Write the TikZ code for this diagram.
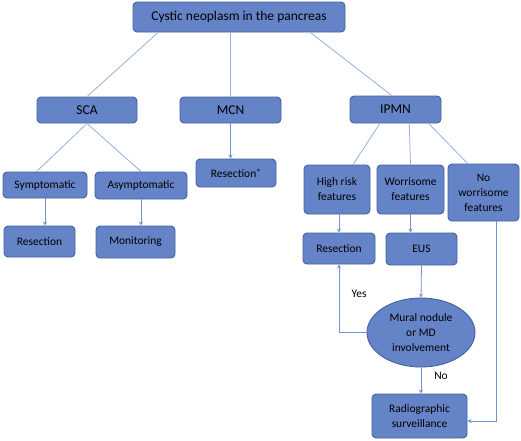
\documentclass[tikz,border=0pt]{standalone}
\usepackage{fontspec}
\setmainfont{Carlito}
\usepackage{tikz}
\usepackage{xcolor}
\usetikzlibrary{shapes,arrows,positioning,calc}
\definecolor{boxcolor}{RGB}{101,132,200}
\definecolor{edgecolor}{RGB}{68,98,160}
\definecolor{linkcolor}{RGB}{150,176,222}
\definecolor{arrowcolor}{RGB}{112,146,210}

\begin{document}
\begin{tikzpicture}[
    x=1pt, y=-1pt,
    box/.style={rectangle, draw=edgecolor, line width=0.9pt, fill=boxcolor, rounded corners=4pt, inner sep=1pt, align=center, font=\fontsize{11.5}{15}\selectfont},
    headbox/.style={box, font=\fontsize{13.5}{15}\selectfont},
    oval/.style={ellipse, draw=edgecolor, line width=0.9pt, fill=boxcolor, inner sep=0pt, align=center, font=\fontsize{11.5}{15}\selectfont},
    link/.style={draw=linkcolor, line width=0.8pt},
    arrow/.style={->, >=stealth, draw=arrowcolor, line width=0.8pt},
    tag/.style={font=\fontsize{11.5}{15}\selectfont}
]
\useasboundingbox (0,0) rectangle (521,440);

% Root
\node[headbox, minimum width=212, minimum height=30] (root) at (239,17) {Cystic neoplasm in the pancreas};

% ============ Level 1 ============
\node[headbox, minimum width=100, minimum height=26] (sca) at (87,110) {SCA};
\node[headbox, minimum width=101, minimum height=26] (mcn) at (230.5,110) {MCN};
\node[headbox, minimum width=91, minimum height=27] (ipmn) at (395.5,109.5) {IPMN};

\draw[link] ($(root.south west)!0.12!(root.south east)$) -- (sca.north);
\draw[link] (root.south -| mcn.north) -- (mcn.north);
\draw[link] ($(root.south west)!0.835!(root.south east)$) -- ($(ipmn.north west)!0.46!(ipmn.north east)$);

% ============ SCA ============
\node[box, minimum width=84, minimum height=26] (symp) at (45,185) {Symptomatic};
\node[box, minimum width=92, minimum height=27] (asymp) at (141,185.5) {Asymptomatic};
\node[box, minimum width=71, minimum height=31] (res1) at (39.5,241.5) {Resection};
\node[box, minimum width=79, minimum height=32] (mon) at (135.5,242) {Monitoring};

\draw[link] (sca.south) -- ($(symp.north west)!0.4!(symp.north east)$);
\draw[link] (sca.south) -- (asymp.north);
\draw[arrow] (symp.south) -- (symp.south |- res1.north);
\draw[arrow] (asymp.south) -- (asymp.south |- mon.north);

% ============ MCN ============
\node[box, minimum width=80, minimum height=28] (res2) at (236,173) {Resection$^{*}$};
\draw[arrow] (mcn.south) -- (mcn.south |- res2.north);

% ============ IPMN ============
\node[box, minimum width=66, minimum height=49] (high) at (337,189.5) {High risk\\features};
\node[box, minimum width=67, minimum height=49] (worr) at (410.5,189.5) {Worrisome\\features};
\node[box, minimum width=71, minimum height=57] (nowor) at (483.5,192.5) {No\\worrisome\\features};
\node[box, minimum width=72, minimum height=31] (res3) at (339,248.5) {Resection};
\node[box, minimum width=71, minimum height=32] (eus) at (421.5,249) {EUS};
\node[oval, minimum width=108, minimum height=69] (mural) at (421,332.5) {Mural nodule\\or MD\\involvement};
\node[box, minimum width=95, minimum height=44] (radio) at (419.5,416) {Radiographic\\surveillance};

\draw[link] ($(ipmn.south west)!0.33!(ipmn.south east)$) -- ($(high.north west)!0.74!(high.north east)$);
\draw[link] ($(ipmn.south west)!0.65!(ipmn.south east)$) -- (worr.north);
\draw[link] ($(ipmn.south west)!0.86!(ipmn.south east)$) -- ($(nowor.north west)!0.28!(nowor.north east)$);

\draw[arrow] (res3.north |- high.south) -- (res3.north);
\draw[arrow] (worr.south) -- (worr.south |- eus.north);
\draw[arrow] (eus.south) -- (mural.north);
\draw[arrow] (mural.west) -| (res3.south);
\draw[arrow] (mural.south) -- (mural.south |- radio.north);
\draw[arrow] ([xshift=12.5pt]nowor.south) |- ([yshift=-5pt]radio.east);

\node[tag] (yes) at (359,294) {Yes};
\node[tag] (no) at (441,376) {No};

\end{tikzpicture}
\end{document}
